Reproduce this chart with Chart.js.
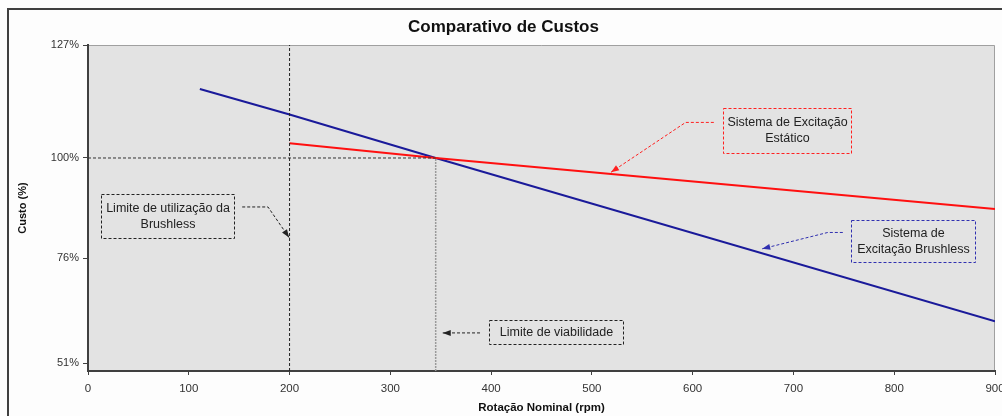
<!DOCTYPE html>
<html>
<head>
<meta charset="utf-8">
<script src="https://cdn.jsdelivr.net/npm/chart.js@4"></script>
<style>
  html, body { margin: 0; padding: 0; background: #fdfdfd; }
  #wrap { width: 1002px; height: 416px; }
</style>
</head>
<body>
<div id="wrap"><canvas id="chart" width="1002" height="416"></canvas></div>
<script>
// ====== DADOS ======
var titulo = "Comparativo de Custos";
var tituloX = "Rotação Nominal (rpm)";
var tituloY = "Custo (%)";
var yTicks = [51, 76, 100, 127];
var yMin = 49.1, yMax = 127;

// Sistema de Excitação Brushless (rpm, %)
var brushlessRpm = [111, 200, 345, 900];
var brushlessCusto = [116.5, 110.4, 100, 61.0];

// Sistema de Excitação Estático (rpm, %)
var estaticoRpm = [200, 345, 900];
var estaticoCusto = [103.5, 100, 87.8];

// linhas de referência
var limiteBrushless = 200;
var limiteViabilidade = 345;
var custoBase = 100;

function pts(xs, ys) {
  return xs.map(function (x, i) { return { x: x, y: ys[i] }; });
}

var fonte = '"Liberation Sans", Arial, sans-serif';

// caixas de texto com seta (coordenadas em rpm / %)
var notas = [
  { linhas: ["Limite de utilização da", "Brushless"], cor: "#222",
    caixa: [13, 91.5, 145, 81], seta: [[153, 88.3], [178.6, 88.3], [199.5, 81]] },
  { linhas: ["Sistema de Excitação", "Estático"], cor: "#ff2020",
    caixa: [630, 111.9, 757, 101.1], seta: [[621, 108.5], [593, 108.5], [519, 96.6]] },
  { linhas: ["Sistema de", "Excitação Brushless"], cor: "#3030b0",
    caixa: [757, 85.3, 880, 75.2], seta: [[749, 82.2], [734, 82.2], [669, 78.3]] },
  { linhas: ["Limite de viabilidade"], cor: "#222",
    caixa: [398, 61.2, 531, 55.5], seta: [[389, 58.2], [352, 58.2]] }
];

var fundo = {
  id: "fundo",
  beforeDraw: function (chart) {
    var ctx = chart.ctx, a = chart.chartArea;
    ctx.save();
    ctx.fillStyle = "#fdfdfd";
    ctx.fillRect(0, 0, chart.width, chart.height);
    ctx.strokeStyle = "#404040";
    ctx.lineWidth = 2;
    ctx.strokeRect(8, 9, 1200, 600);
    ctx.fillStyle = "#e3e3e3";
    ctx.fillRect(a.left, a.top, a.right - a.left, a.bottom - a.top);
    ctx.strokeStyle = "#a0a0a0";
    ctx.lineWidth = 1;
    ctx.beginPath();
    ctx.moveTo(a.left, a.top + 0.5);
    ctx.lineTo(a.right - 0.5, a.top + 0.5);
    ctx.lineTo(a.right - 0.5, a.bottom);
    ctx.stroke();
    ctx.restore();
  }
};

var anotacoes = {
  id: "anotacoes",
  afterDatasetsDraw: function (chart) {
    var ctx = chart.ctx, sx = chart.scales.x, sy = chart.scales.y;
    ctx.save();
    notas.forEach(function (n) {
      var x1 = Math.round(sx.getPixelForValue(n.caixa[0])) + 0.5;
      var y1 = Math.round(sy.getPixelForValue(n.caixa[1])) + 0.5;
      var x2 = Math.round(sx.getPixelForValue(n.caixa[2])) + 0.5;
      var y2 = Math.round(sy.getPixelForValue(n.caixa[3])) + 0.5;
      ctx.setLineDash([3, 2]);
      ctx.lineWidth = 1;
      ctx.strokeStyle = n.cor;
      ctx.strokeRect(x1, y1, x2 - x1, y2 - y1);

      // texto
      ctx.setLineDash([]);
      ctx.fillStyle = "#222";
      ctx.font = "12.5px " + fonte;
      ctx.textAlign = "center";
      ctx.textBaseline = "middle";
      var cx = (x1 + x2) / 2, cy = (y1 + y2) / 2, lh = 16;
      n.linhas.forEach(function (t, i) {
        ctx.fillText(t, cx, cy + (i - (n.linhas.length - 1) / 2) * lh);
      });

      // seta
      var p = n.seta.map(function (s) {
        return [sx.getPixelForValue(s[0]), sy.getPixelForValue(s[1])];
      });
      ctx.setLineDash([3, 2]);
      ctx.beginPath();
      ctx.moveTo(p[0][0], p[0][1]);
      for (var i = 1; i < p.length; i++) ctx.lineTo(p[i][0], p[i][1]);
      ctx.stroke();
      ctx.setLineDash([]);
      var a = p[p.length - 2], b = p[p.length - 1];
      var ang = Math.atan2(b[1] - a[1], b[0] - a[0]);
      ctx.fillStyle = n.cor;
      ctx.beginPath();
      ctx.moveTo(b[0], b[1]);
      ctx.lineTo(b[0] - 8 * Math.cos(ang) + 3 * Math.sin(ang), b[1] - 8 * Math.sin(ang) - 3 * Math.cos(ang));
      ctx.lineTo(b[0] - 8 * Math.cos(ang) - 3 * Math.sin(ang), b[1] - 8 * Math.sin(ang) + 3 * Math.cos(ang));
      ctx.closePath();
      ctx.fill();
    });
    ctx.restore();
  }
};

new Chart(document.getElementById("chart"), {
  type: "line",
  data: {
    datasets: [
      { label: "limite brushless", data: pts([limiteBrushless, limiteBrushless], [yMin, yMax]),
        borderColor: "#222", borderWidth: 1, borderDash: [3, 2] },
      { label: "custo base", data: pts([0, limiteViabilidade], [custoBase, custoBase]),
        borderColor: "#333", borderWidth: 1, borderDash: [3, 2] },
      { label: "limite viabilidade", data: pts([limiteViabilidade, limiteViabilidade], [yMin, custoBase]),
        borderColor: "#9a9a9a", borderWidth: 1.5, borderDash: [2, 1] },
      { label: "Sistema de Excitação Estático", data: pts(estaticoRpm, estaticoCusto),
        borderColor: "#ff1010", borderWidth: 2 },
      { label: "Sistema de Excitação Brushless", data: pts(brushlessRpm, brushlessCusto),
        borderColor: "#1a1a9a", borderWidth: 2 }
    ]
  },
  options: {
    responsive: false,
    animation: false,
    events: [],
    elements: { point: { radius: 0 }, line: { tension: 0 } },
    layout: { padding: { left: 12, right: 7, top: 0, bottom: 1 } },
    plugins: {
      legend: { display: false },
      tooltip: { enabled: false },
      title: {
        display: true,
        text: titulo,
        color: "#111",
        font: { family: fonte, size: 17, weight: "bold" },
        padding: { top: 17, bottom: 7.6 }
      }
    },
    scales: {
      x: {
        type: "linear",
        min: 0, max: 900,
        ticks: { stepSize: 100, color: "#333", font: { family: fonte, size: 11.5 }, padding: 7, maxRotation: 0 },
        grid: { display: true, drawOnChartArea: false, drawTicks: true, tickLength: 4, color: "#404040" },
        border: { display: true, color: "#404040", width: 2 },
        title: { display: true, text: tituloX, color: "#111", font: { family: fonte, size: 11.5, weight: "bold" }, padding: { top: 0, bottom: 0 } },
        afterFit: function (s) { s.height = 44; s.paddingLeft = 0; s.paddingRight = 0; }
      },
      y: {
        type: "linear",
        min: yMin, max: yMax,
        afterBuildTicks: function (s) { s.ticks = yTicks.map(function (v) { return { value: v }; }); },
        ticks: { color: "#333", font: { family: fonte, size: 11 }, padding: 4, callback: function (v) { return v + "%"; } },
        grid: { display: true, drawOnChartArea: false, drawTicks: true, tickLength: 5, color: "#404040" },
        border: { display: true, color: "#404040", width: 2 },
        title: { display: true, text: tituloY, color: "#111", font: { family: fonte, size: 11, weight: "bold" } },
        afterFit: function (s) { s.width = 76; s.paddingTop = 0; s.paddingBottom = 0; }
      }
    }
  },
  plugins: [fundo, anotacoes]
});
</script>
</body>
</html>
